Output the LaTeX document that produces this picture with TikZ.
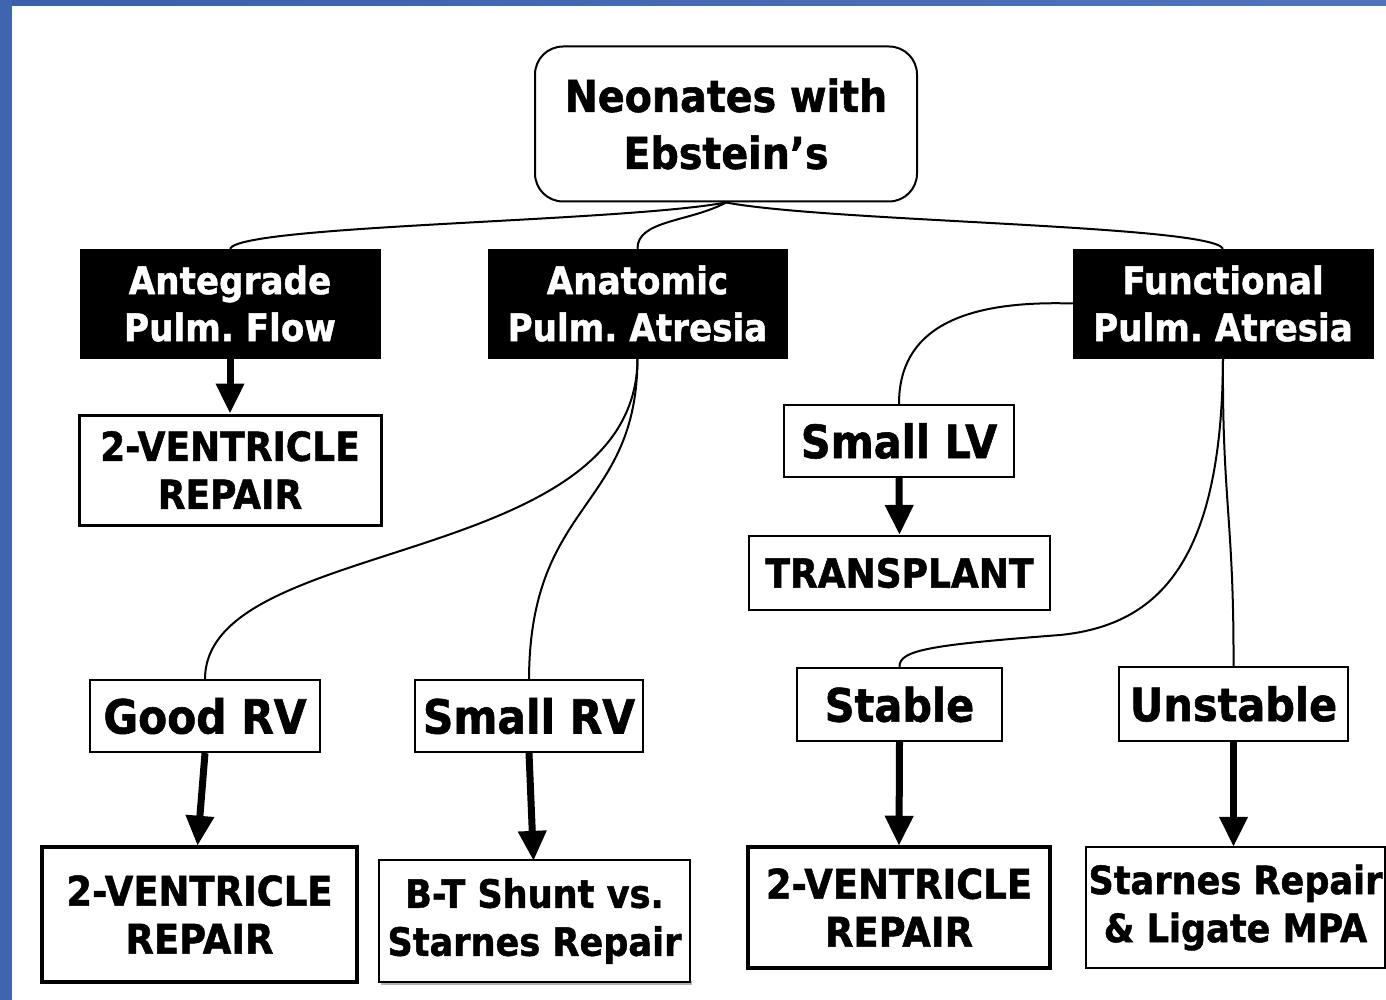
\documentclass[tikz,border=0pt]{standalone}
\usepackage{fontspec}
\setmainfont{DejaVu Sans}[FakeStretch=0.9,BoldFeatures={FakeBold=1.2}]
\usetikzlibrary{arrows.meta}
\definecolor{frameblue}{HTML}{3E65AD}
\frenchspacing
\begin{document}
\begin{tikzpicture}[x=1pt,y=-1pt,
  conn/.style={line width=2pt,black},
  arr/.style={line width=7pt,-{Triangle[width=27pt,length=30pt]}},
  blackbox/.style={fill=black,draw=black,text=white,inner sep=0pt,align=center,
     font=\bfseries\fontsize{38}{47}\selectfont},
  thinbox/.style={draw=black,line width=2.2pt,fill=white,inner sep=0pt,align=center,
     font=\bfseries\fontsize{40}{48}\selectfont},
  thickbox/.style={thinbox,line width=4.5pt},
  bigword/.style={thinbox,font=\bfseries\fontsize{47}{56}\selectfont}
]
\useasboundingbox (0,0) rectangle (1386,1000);
\fill[white] (0,0) rectangle (1386,1000);
\shade[left color=frameblue!95!black,right color=frameblue!90!white] (0,0) rectangle (1386,6);
\fill[frameblue] (0,0) rectangle (12,1000);

% root
\node[draw=black,line width=2pt,rounded corners=28pt,minimum width=382pt,minimum height=155pt,
  inner sep=0pt,align=center,font=\bfseries\fontsize{44}{57}\selectfont]
  (root) at (726,124) {Neonates with\\Ebstein’s};

% black boxes
\node[blackbox,minimum width=300pt,minimum height=109pt] (ante) at (230,303.5) {Antegrade\\Pulm. Flow};
\node[blackbox,minimum width=299pt,minimum height=109pt] (anat) at (637.5,303.5) {Anatomic\\Pulm. Atresia};
\node[blackbox,minimum width=300pt,minimum height=109pt] (func) at (1223,303.5) {Functional\\Pulm. Atresia};

% second level
\node[thinbox,line width=3pt,minimum width=302pt,minimum height=110pt] (tv1) at (230,470) {2-VENTRICLE\\REPAIR};
\node[bigword,font=\bfseries\fontsize{46}{56}\selectfont,minimum width=230pt,minimum height=72pt] (slv) at (899,441) {Small LV};
\node[thinbox,minimum width=301pt,minimum height=74pt] (trans) at (899.5,573) {TRANSPLANT};

% third level
\node[bigword,minimum width=230pt,minimum height=72pt] (grv) at (205,716) {Good RV};
\node[bigword,minimum width=228pt,minimum height=72pt] (srv) at (529,716) {Small RV};
\node[bigword,font=\bfseries\fontsize{46}{56}\selectfont,minimum width=205pt,minimum height=73pt] (stab) at (899.5,704.5) {Stable};
\node[bigword,font=\bfseries\fontsize{46}{56}\selectfont,minimum width=229pt,minimum height=74pt] (unst) at (1233.5,704) {Unstable};

% bottom level
\node[thickbox,font=\bfseries\fontsize{41}{48}\selectfont,minimum width=315pt,minimum height=135pt] (tv2) at (199.5,914.5) {2-VENTRICLE\\REPAIR};
\fill[gray!60] (381,981) rectangle (692,985);
\node[thinbox,font=\bfseries\fontsize{39}{48}\selectfont,minimum width=311pt,minimum height=122pt] (bt) at (534.5,921) {B-T Shunt vs.\\Starnes Repair};
\node[thickbox,font=\bfseries\fontsize{41}{48}\selectfont,minimum width=302pt,minimum height=121pt] (tv3) at (899,907.5) {2-VENTRICLE\\REPAIR};
\node[thinbox,line width=2.5pt,font=\bfseries\fontsize{39}{48}\selectfont,minimum width=299pt,minimum height=121pt] (star) at (1235.5,907.5) {Starnes Repair\\\& Ligate MPA};

% curved connectors
\draw[conn] (root.south) .. controls (620,222) and (240,225) .. (ante.north);
\draw[conn] (root.south) .. controls (690,222) and (637,220) .. (anat.north);
\draw[conn] (root.south) .. controls (830,222) and (1212,225) .. (func.north);
\draw[conn] (anat.south) .. controls (637,570) and (206,535) .. (grv.north);
\draw[conn] (anat.south) .. controls (637,510) and (530,500) .. (srv.north);
\draw[conn] (func.west) .. controls (960,300) and (899,330) .. (slv.north);
\coordinate (fmid) at (1060,635);
\draw[conn] (func.south) .. controls (1222,560) and (1160,625) .. (fmid)
   .. controls (930,645) and (899,650) .. (stab.north);
\draw[conn] (func.south) .. controls (1222,500) and (1234,520) .. (unst.north);

% thick arrows
\draw[arr] (ante.south) -- (tv1.north);
\draw[arr] (slv.south) -- (trans.north);
\draw[arr] (grv.south) -- ([xshift=-2pt,yshift=-1pt]tv2.north);
\draw[arr] (srv.south) -- ([xshift=-1pt,yshift=-2pt]bt.north);
\draw[arr] (stab.south) -- ([yshift=-1pt]tv3.north);
\draw[arr] (unst.south) -- ([xshift=-2pt,yshift=-1pt]star.north);
\end{tikzpicture}
\end{document}
